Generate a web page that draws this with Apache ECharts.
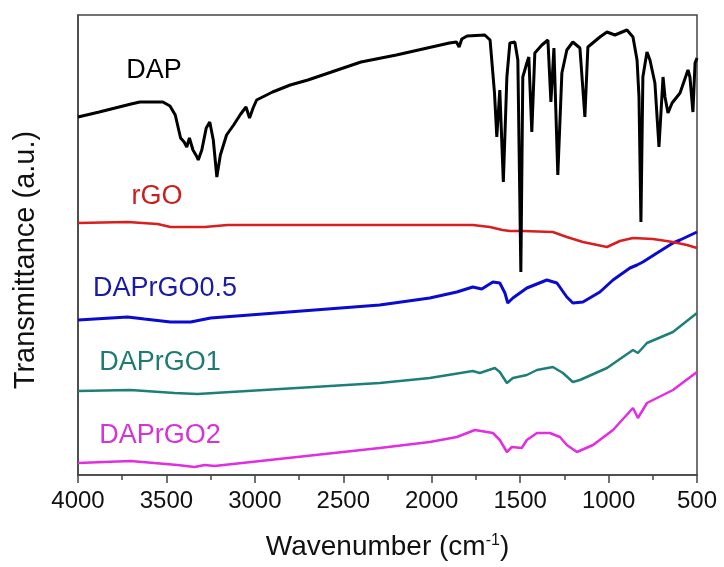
<!DOCTYPE html>
<html>
<head>
<meta charset="utf-8">
<script src="https://cdn.jsdelivr.net/npm/echarts@6/dist/echarts.min.js"></script>
<style>
html,body{margin:0;padding:0;background:#fff;}
#ftir{width:724px;height:567px;}
</style>
</head>
<body>
<div id="ftir"></div>
<script>
//波数 / 透过率(任意单位，已错开)
var dapWn=[4000,3880,3700,3650,3520,3480,3450,3420,3400,3385,3370,3350,3330,3320,3300,3275,3255,3235,3215,3195,3160,3120,3080,3050,3030,3010,2990,2900,2800,2700,2600,2500,2400,2200,2000,1900,1860,1845,1830,1800,1700,1690,1670,1645,1632,1615,1595,1575,1558,1530,1513,1496,1485,1462,1451,1434,1417,1377,1343,1326,1309,1287,1264,1236,1202,1162,1134,1117,1049,1009,964,896,862,839,828,817,806,783,766,738,715,692,681,664,641,596,551,540,523,511,500];
var dapT=[358,363,371,373,373,369,360,337,333,328,337,325,319,315,325,347,353,335,298,320,340,350,361,368,357,367,375,383,390,395,401,407,413,420,428,432,433,428,436,439,440,441,435,382,338,385,293,398,432,433,415,203,398,412,418,343,422,430,435,373,427,300,402,425,433,427,358,428,438,443,440,445,438,415,378,253,398,423,415,392,328,398,378,362,372,382,405,398,363,412,417];

var rgoWn=[4000,3720,3550,3477,3284,3154,2249,1768,1671,1600,1558,1485,1315,1236,1145,1009,936,862,749,636,557,500];
var rgoT=[252,253,251,248,248,250,250,250,248,245,244,244,243,238,233,228,234,237,236,233,230,227];

var g05Wn=[4000,3720,3624,3477,3363,3250,2294,2011,1858,1768,1717,1654,1615,1586,1570,1541,1462,1349,1292,1236,1202,1145,1049,975,879,839,806,726,636,596,500];
var g05T=[155,158,156,153,153,157,170,177,183,188,186,193,192,182,172,177,187,195,192,178,172,173,183,195,207,210,213,222,232,235,243];

var g1Wn=[4000,3703,3454,3324,2294,2011,1768,1728,1643,1615,1575,1541,1462,1405,1315,1258,1202,1162,1009,862,834,783,636,500];
var g1T=[84,85,82,81,92,97,104,102,107,103,92,97,100,105,108,102,93,95,107,125,122,132,143,162];

var g2Wn=[4000,3703,3437,3341,3284,3228,2294,2011,1858,1756,1654,1615,1575,1547,1491,1462,1405,1332,1275,1236,1179,1088,975,862,834,783,636,500];
var g2T=[12,14,10,8,10,9,27,33,38,45,42,35,23,28,27,35,42,42,38,30,23,30,45,67,57,72,85,103];

var seriesName=['DAP','rGO','DAPrGO0.5','DAPrGO1','DAPrGO2'];
var lineColor=['#000000','#d81e1e','#0a0ad0','#1e7f7a','#e02ee0'];
var textColor=['#000000','#cc1c1c','#1a1aa8','#1f7a74','#d633d6'];
var xTicks=[4000,3500,3000,2500,2000,1500,1000,500];

function pairs(wn,t){
    var arr=[];
    for(var i=0;i<wn.length;i++){
        arr.push([wn[i],t[i]]);
    }
    return arr;
}

var allData=[pairs(dapWn,dapT),pairs(rgoWn,rgoT),pairs(g05Wn,g05T),pairs(g1Wn,g1T),pairs(g2Wn,g2T)];
var lineW=[3,2.5,3,2.5,2.5];

function seriesData(){
    var arr=[];
    for(var i=0;i<allData.length;i++){
        arr.push({
            name:seriesName[i],
            type:'line',
            showSymbol:false,
            symbol:'none',
            smooth:false,
            z:10-i,
            lineStyle:{color:lineColor[i],width:lineW[i]},
            data:allData[i]
        });
    }
    return arr;
}

//曲线标签 (文字位置)
var labelPos=[[154,71],[157,197],[165,289],[160,363],[160,436]];
function labelGraphic(){
    var arr=[];
    for(var i=0;i<seriesName.length;i++){
        arr.push({
            type:'text',
            x:labelPos[i][0],
            y:labelPos[i][1],
            style:{
                text:seriesName[i],
                fill:textColor[i],
                font:'27px "Liberation Sans", Arial, sans-serif',
                textAlign:'center',
                textVerticalAlign:'middle'
            }
        });
    }
    return arr;
}

var chart=echarts.init(document.getElementById('ftir'));
var option={
    animation:false,
    backgroundColor:'#fff',
    grid:{
        left:78,
        right:27,
        top:15,
        bottom:92,
        show:true,
        borderColor:'#444',
        borderWidth:1.5,
        containLabel:false
    },
    xAxis:{
        type:'value',
        inverse:true,
        min:500,
        max:4000,
        interval:500,
        name:'Wavenumber (cm{sup|-1})',
        nameLocation:'middle',
        nameGap:58,
        nameTextStyle:{
            fontFamily:'Liberation Sans',
            fontSize:28,
            color:'#111',
            rich:{
                sup:{fontSize:16,verticalAlign:'top',padding:[0,0,12,0],fontFamily:'Liberation Sans',color:'#111'}
            }
        },
        axisLine:{lineStyle:{color:'#444',width:1.5}},
        axisTick:{show:true,inside:false,length:8,lineStyle:{color:'#444',width:1.5}},
        minorTick:{show:true,splitNumber:2,length:5,lineStyle:{color:'#444',width:1.5}},
        splitLine:{show:false},
        axisLabel:{
            fontFamily:'Liberation Sans',
            fontSize:24,
            color:'#111',
            margin:14,
            formatter:function(v){return xTicks.indexOf(v)>-1?String(v):'';}
        }
    },
    yAxis:{
        type:'value',
        min:0,
        max:460,
        name:'Transmittance (a.u.)',
        nameLocation:'middle',
        nameGap:38,
        nameTextStyle:{
            fontFamily:'Liberation Sans',
            fontSize:29,
            color:'#111',
            padding:[0,30,0,0]
        },
        axisLine:{show:true,lineStyle:{color:'#444',width:1.5}},
        axisTick:{show:false},
        axisLabel:{show:false},
        splitLine:{show:false}
    },
    graphic:labelGraphic(),
    series:seriesData()
};
chart.setOption(option);
</script>
</body>
</html>
